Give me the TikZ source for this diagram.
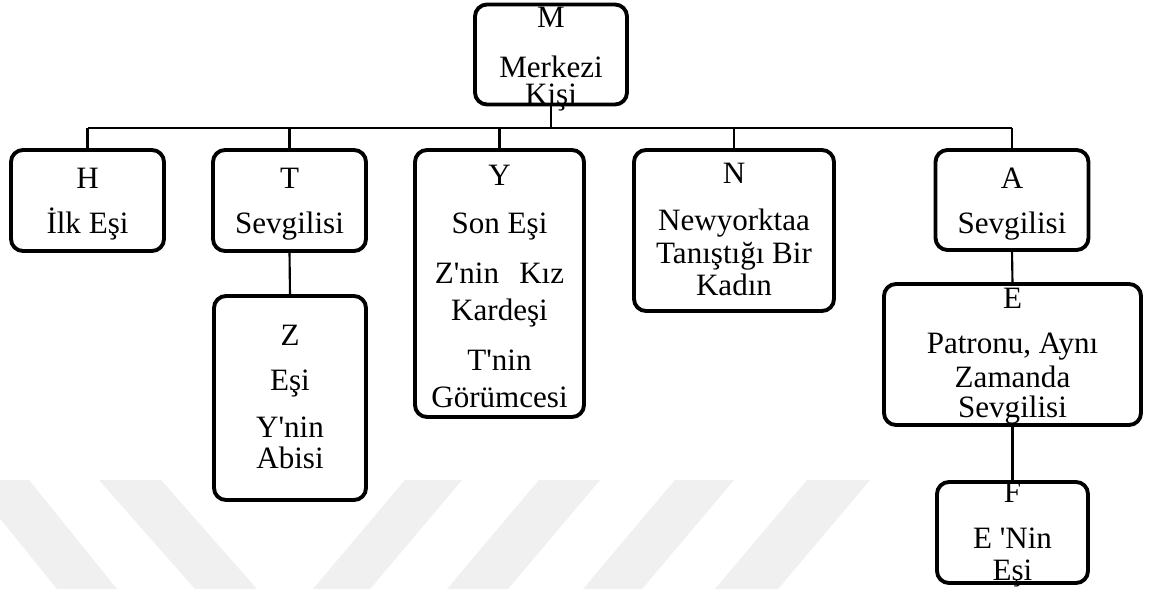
\documentclass[tikz,border=0pt]{standalone}
\usepackage{fontspec}
\setmainfont{Liberation Serif}[Ligatures=TeXOff]
\begin{document}
\begin{tikzpicture}[x=0.75pt,y=-0.75pt,
  box/.style={draw=black, line width=2.9pt, rounded corners=9pt, fill=white,
    inner sep=0pt, outer sep=0pt},
  conn/.style={draw=black, line width=1.6pt},
  txt/.style={anchor=base, inner sep=0pt, font=\fontsize{23.3}{28}\selectfont},
  band/.style={fill=black!6, draw=none}]
\useasboundingbox (0,0) rectangle (1149,589);
\fill[white] (0,0) rectangle (1149,589);

% faint diagonal bands along the lower edge
\fill[band] (-31,480) -- (29,480) -- (117,589) -- (57,589) -- cycle;
\fill[band] (99,480) -- (161,480) -- (257,589) -- (195,589) -- cycle;
\fill[band] (405,480) -- (462,480) -- (370,589) -- (313,589) -- cycle;
\fill[band] (539,480) -- (600,480) -- (508,589) -- (447,589) -- cycle;
\fill[band] (675,480) -- (734,480) -- (642,589) -- (583,589) -- cycle;
\fill[band] (807,480) -- (870,480) -- (778,589) -- (715,589) -- cycle;

% boxes
\node[box, minimum width=152*0.75pt, minimum height=100*0.75pt] (M) at (551,54.5)  {};
\node[box, minimum width=153*0.75pt, minimum height=101*0.75pt] (H) at (87.5,200.5) {};
\node[box, minimum width=153*0.75pt, minimum height=101*0.75pt] (T) at (289.5,200.5) {};
\node[box, minimum width=169*0.75pt, minimum height=267*0.75pt] (Y) at (499.5,283.5) {};
\node[box, minimum width=200*0.75pt, minimum height=161*0.75pt] (N) at (734,230.5) {};
\node[box, minimum width=153*0.75pt, minimum height=100*0.75pt] (A) at (1012,200) {};
\node[box, minimum width=257*0.75pt, minimum height=141*0.75pt] (E) at (1012.5,354.5) {};
\node[box, minimum width=151*0.75pt, minimum height=101*0.75pt] (F) at (1012.5,532.5) {};
\node[box, minimum width=152*0.75pt, minimum height=204*0.75pt] (Z) at (290,398) {};

% connectors
\coordinate (bus) at (0,128);
\draw[conn] (M.south) -- (M.south |- bus);
\draw[conn] (H.north |- bus) -- (A.north |- bus);
\foreach \c in {H,T,Y,N,A} \draw[conn] (\c.north |- bus) -- (\c.north);
\draw[conn] (T.south) -- (Z.north);
\draw[conn] (A.south) -- (E.north);
\draw[conn] (E.south) -- (F.north);

% labels
\node[txt] (m1) at (551,27)  {M};
\node[txt] (m2) at (551,77)  {Merkezi};
\node[txt] (m3) at (551,104) {Kişi};

\node[txt] (h1) at (87.5,188) {H};
\node[txt] (h2) at (87.5,233) {İlk Eşi};

\node[txt] (t1) at (289.5,188) {T};
\node[txt] (t2) at (289.5,233) {Sevgilisi};

\node[txt] (y1) at (499.5,185) {Y};
\node[txt] (y2) at (499.5,233) {Son Eşi};
\node[txt] (y3) at (499.5,283) {Z'nin\hspace{0.4em} Kız};
\node[txt] (y4) at (499.5,320) {Kardeşi};
\node[txt] (y5) at (499.5,370) {T'nin};
\node[txt] (y6) at (499.5,407) {Görümcesi};

\node[txt] (n1) at (734,183) {N};
\node[txt] (n2) at (734,230) {Newyorktaa};
\node[txt] (n3) at (734,263) {Tanıştığı Bir};
\node[txt] (n4) at (734,295) {Kadın};

\node[txt] (a1) at (1012,188) {A};
\node[txt] (a2) at (1012,233) {Sevgilisi};

\node[txt] (e1) at (1012.5,308) {E};
\node[txt] (e2) at (1012.5,353) {Patronu, Aynı};
\node[txt] (e3) at (1012.5,387) {Zamanda};
\node[txt] (e4) at (1012.5,417) {Sevgilisi};

\node[txt] (f1) at (1012.5,502) {F};
\node[txt] (f2) at (1012.5,548) {E 'Nin};
\node[txt] (f3) at (1012.5,580) {Eşi};

\node[txt] (z1) at (290,345) {Z};
\node[txt] (z2) at (290,390) {Eşi};
\node[txt] (z3) at (290,437) {Y'nin};
\node[txt] (z4) at (290,468) {Abisi};
\end{tikzpicture}
\end{document}
